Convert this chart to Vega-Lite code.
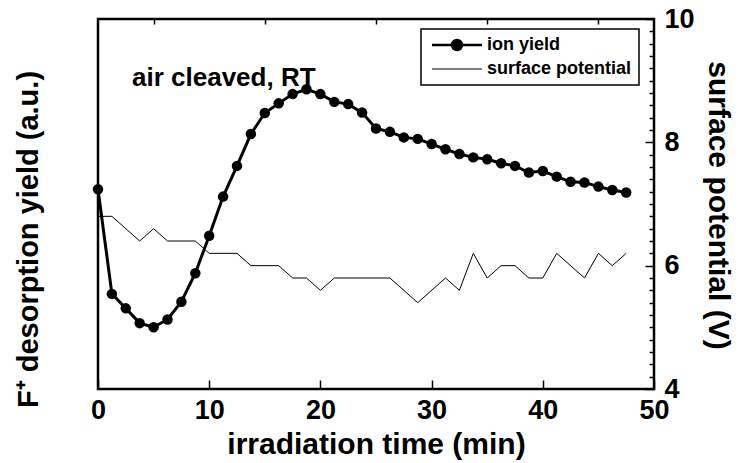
{
  "$schema": "https://vega.github.io/schema/vega-lite/v6.json",
  "width": 556,
  "height": 370,
  "autosize": "none",
  "padding": {"left": 98, "top": 19, "right": 90, "bottom": 74},
  "background": "white",
  "config": {
    "font": "Liberation Sans",
    "view": {"stroke": "black", "strokeWidth": 2.5},
    "axis": {
      "labelFont": "Liberation Sans",
      "labelFontWeight": "bold",
      "labelColor": "black",
      "titleFont": "Liberation Sans",
      "titleFontWeight": "bold",
      "titleColor": "black",
      "ticks": true,
      "tickColor": "black",
      "tickOpacity": 1,
      "tickWidth": 1.5,
      "grid": false,
      "domain": false
    }
  },
  "datasets": {
    "ion": [
      {"t": 0, "yield": 5.40, "series": "ion yield"},
      {"t": 1.25, "yield": 2.57, "series": "ion yield"},
      {"t": 2.5, "yield": 2.18, "series": "ion yield"},
      {"t": 3.75, "yield": 1.78, "series": "ion yield"},
      {"t": 5, "yield": 1.67, "series": "ion yield"},
      {"t": 6.25, "yield": 1.88, "series": "ion yield"},
      {"t": 7.5, "yield": 2.36, "series": "ion yield"},
      {"t": 8.75, "yield": 3.13, "series": "ion yield"},
      {"t": 10, "yield": 4.14, "series": "ion yield"},
      {"t": 11.25, "yield": 5.20, "series": "ion yield"},
      {"t": 12.5, "yield": 6.03, "series": "ion yield"},
      {"t": 13.75, "yield": 6.89, "series": "ion yield"},
      {"t": 15, "yield": 7.46, "series": "ion yield"},
      {"t": 16.25, "yield": 7.72, "series": "ion yield"},
      {"t": 17.5, "yield": 7.97, "series": "ion yield"},
      {"t": 18.75, "yield": 8.10, "series": "ion yield"},
      {"t": 20, "yield": 7.97, "series": "ion yield"},
      {"t": 21.25, "yield": 7.76, "series": "ion yield"},
      {"t": 22.5, "yield": 7.70, "series": "ion yield"},
      {"t": 23.75, "yield": 7.47, "series": "ion yield"},
      {"t": 25, "yield": 7.04, "series": "ion yield"},
      {"t": 26.25, "yield": 6.95, "series": "ion yield"},
      {"t": 27.5, "yield": 6.80, "series": "ion yield"},
      {"t": 28.75, "yield": 6.76, "series": "ion yield"},
      {"t": 30, "yield": 6.62, "series": "ion yield"},
      {"t": 31.25, "yield": 6.48, "series": "ion yield"},
      {"t": 32.5, "yield": 6.35, "series": "ion yield"},
      {"t": 33.75, "yield": 6.26, "series": "ion yield"},
      {"t": 35, "yield": 6.21, "series": "ion yield"},
      {"t": 36.25, "yield": 6.10, "series": "ion yield"},
      {"t": 37.5, "yield": 6.03, "series": "ion yield"},
      {"t": 38.75, "yield": 5.85, "series": "ion yield"},
      {"t": 40, "yield": 5.89, "series": "ion yield"},
      {"t": 41.25, "yield": 5.74, "series": "ion yield"},
      {"t": 42.5, "yield": 5.60, "series": "ion yield"},
      {"t": 43.75, "yield": 5.58, "series": "ion yield"},
      {"t": 45, "yield": 5.47, "series": "ion yield"},
      {"t": 46.25, "yield": 5.38, "series": "ion yield"},
      {"t": 47.5, "yield": 5.31, "series": "ion yield"}
    ],
    "pot": [
      {"t": 0, "potential": 6.8, "series": "surface potential"},
      {"t": 1.25, "potential": 6.8, "series": "surface potential"},
      {"t": 3.75, "potential": 6.4, "series": "surface potential"},
      {"t": 5, "potential": 6.6, "series": "surface potential"},
      {"t": 6.25, "potential": 6.4, "series": "surface potential"},
      {"t": 8.75, "potential": 6.4, "series": "surface potential"},
      {"t": 10, "potential": 6.2, "series": "surface potential"},
      {"t": 12.5, "potential": 6.2, "series": "surface potential"},
      {"t": 13.75, "potential": 6.0, "series": "surface potential"},
      {"t": 16.25, "potential": 6.0, "series": "surface potential"},
      {"t": 17.5, "potential": 5.8, "series": "surface potential"},
      {"t": 18.75, "potential": 5.8, "series": "surface potential"},
      {"t": 20, "potential": 5.6, "series": "surface potential"},
      {"t": 21.25, "potential": 5.8, "series": "surface potential"},
      {"t": 26.25, "potential": 5.8, "series": "surface potential"},
      {"t": 28.75, "potential": 5.4, "series": "surface potential"},
      {"t": 31.25, "potential": 5.8, "series": "surface potential"},
      {"t": 32.5, "potential": 5.6, "series": "surface potential"},
      {"t": 33.75, "potential": 6.2, "series": "surface potential"},
      {"t": 35, "potential": 5.8, "series": "surface potential"},
      {"t": 36.25, "potential": 6.0, "series": "surface potential"},
      {"t": 37.5, "potential": 6.0, "series": "surface potential"},
      {"t": 38.75, "potential": 5.8, "series": "surface potential"},
      {"t": 40, "potential": 5.8, "series": "surface potential"},
      {"t": 41.25, "potential": 6.2, "series": "surface potential"},
      {"t": 43.75, "potential": 5.8, "series": "surface potential"},
      {"t": 45, "potential": 6.2, "series": "surface potential"},
      {"t": 46.25, "potential": 6.0, "series": "surface potential"},
      {"t": 47.5, "potential": 6.2, "series": "surface potential"}
    ],
    "notes": [
      {"t": 3.06, "yield": 8.40, "note": "air cleaved, RT"}
    ]
  },
  "layer": [
    {
      "encoding": {
        "x": {
          "field": "t",
          "type": "quantitative",
          "scale": {"domain": [0, 50], "nice": false, "zero": false},
          "axis": {
            "values": [0, 10, 20, 30, 40, 50],
            "offset": -9,
            "tickSize": 9,
            "labelOverlap": false,
            "labelFlush": false,
            "labelFontSize": 27,
            "labelPadding": 8,
            "title": "irradiation time (min)",
            "titleFontSize": 30,
            "titleBaseline": "middle",
            "titleY": 64
          }
        }
      },
      "layer": [
        {
          "data": {"name": "ion"},
          "mark": {"type": "line", "strokeWidth": 3, "color": "black"},
          "encoding": {
            "y": {
              "field": "yield",
              "type": "quantitative",
              "scale": {"domain": [0, 10], "nice": false, "zero": false},
              "axis": {
                "orient": "left",
                "ticks": false,
                "labels": false,
                "title": "F⁺ desorption yield (a.u.)",
                "titleFontSize": 29,
                "titleBaseline": "middle",
                "titleX": -70,
                "titleY": 220
              }
            },
            "color": {
              "field": "series",
              "type": "nominal",
              "scale": {"domain": ["ion yield", "surface potential"], "range": ["black", "black"]},
              "legend": {
                "title": null,
                "orient": "none",
                "legendX": 323,
                "legendY": 10,
                "padding": 7,
                "strokeColor": "black",
                "labelFont": "Liberation Sans",
                "labelFontWeight": "bold",
                "labelFontSize": 18,
                "labelColor": "black",
                "labelOffset": 21,
                "symbolOffset": 20,
                "rowPadding": 5,
                "symbolSize": 100,
                "encode": {
                  "symbols": {
                    "update": {
                      "shape": {"signal": "datum.value === 'ion yield' ? 'M-5,0H-1A1,1 0 1,1 1,0H5M-1,0A1,1 0 1,0 1,0' : 'M-5,0H5'"},
                      "fill": {"value": "black"},
                      "stroke": {"value": "black"},
                      "strokeWidth": {"signal": "datum.value === 'ion yield' ? 2.5 : 1"},
                      "opacity": {"value": 1}
                    }
                  },
                  "legend": {"update": {"strokeWidth": {"value": 1.5}}}
                }
              }
            }
          }
        },
        {
          "data": {"name": "ion"},
          "mark": {"type": "point", "filled": true, "size": 110, "color": "black", "opacity": 1},
          "encoding": {"y": {"field": "yield", "type": "quantitative"}}
        },
        {
          "data": {"name": "notes"},
          "mark": {"type": "text", "align": "left", "baseline": "middle", "font": "Liberation Sans", "fontWeight": "bold", "fontSize": 26, "fill": "black", "opacity": 1},
          "encoding": {
            "y": {"field": "yield", "type": "quantitative"},
            "text": {"field": "note", "type": "nominal"}
          }
        }
      ]
    },
    {
      "data": {"name": "pot"},
      "encoding": {
        "x": {
          "field": "t",
          "type": "quantitative",
          "scale": {"domain": [0, 50], "nice": false, "zero": false},
          "axis": {
            "values": [5, 15, 25, 35, 45],
            "offset": -5,
            "tickSize": 5,
            "labels": false,
            "title": null
          }
        }
      },
      "layer": [
        {
          "mark": {"type": "line", "strokeWidth": 1, "color": "#111111"},
          "encoding": {
            "y": {
              "field": "potential",
              "type": "quantitative",
              "scale": {"domain": [4, 10], "nice": false, "zero": false},
              "axis": {
                "orient": "right",
                "values": [4, 6, 8, 10],
                "offset": -9,
                "tickSize": 9,
                "labelOverlap": false,
                "labelFlush": false,
                "labelFontSize": 27,
                "labelPadding": 10,
                "title": "surface potential (V)",
                "titleFontSize": 30,
                "titleAngle": 90,
                "titleBaseline": "middle",
                "titleX": 72,
                "titleY": 186
              }
            },
            "color": {"field": "series", "type": "nominal"}
          }
        },
        {
          "mark": {"type": "line", "strokeWidth": 1, "strokeOpacity": 0},
          "encoding": {
            "y": {
              "field": "potential",
              "type": "quantitative",
              "axis": {
                "orient": "right",
                "values": [4.2, 4.4, 4.6, 4.8, 5, 5.2, 5.4, 5.6, 5.8, 6.2, 6.4, 6.6, 6.8, 7, 7.2, 7.4, 7.6, 7.8, 8.2, 8.4, 8.6, 8.8, 9, 9.2, 9.4, 9.6, 9.8],
                "offset": -5,
                "tickSize": 5,
                "labels": false,
                "title": null
              }
            }
          }
        }
      ],
      "resolve": {"axis": {"y": "independent"}}
    }
  ],
  "resolve": {"scale": {"y": "independent"}, "axis": {"x": "independent", "y": "independent"}}
}
